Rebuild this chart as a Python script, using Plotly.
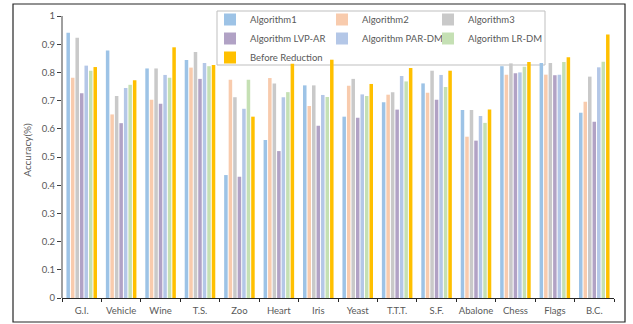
import plotly.graph_objects as go

categories = ["G.I.", "Vehicle", "Wine", "T.S.", "Zoo", "Heart", "Iris", "Yeast",
              "T.T.T.", "S.F.", "Abalone", "Chess", "Flags", "B.C."]

algorithm1 = [0.941, 0.878, 0.814, 0.844, 0.436, 0.560, 0.754, 0.643, 0.694, 0.761, 0.667, 0.822, 0.833, 0.657]
algorithm2 = [0.781, 0.651, 0.703, 0.817, 0.774, 0.780, 0.681, 0.753, 0.721, 0.728, 0.572, 0.792, 0.792, 0.696]
algorithm3 = [0.923, 0.716, 0.814, 0.872, 0.712, 0.761, 0.754, 0.777, 0.730, 0.806, 0.667, 0.832, 0.833, 0.785]
lvp_ar     = [0.726, 0.620, 0.689, 0.777, 0.430, 0.521, 0.611, 0.639, 0.668, 0.703, 0.558, 0.797, 0.790, 0.625]
par_dm     = [0.824, 0.745, 0.791, 0.833, 0.671, 0.712, 0.720, 0.722, 0.787, 0.791, 0.645, 0.800, 0.792, 0.818]
lr_dm      = [0.806, 0.756, 0.781, 0.822, 0.774, 0.730, 0.713, 0.716, 0.768, 0.748, 0.621, 0.820, 0.837, 0.838]
before     = [0.819, 0.772, 0.889, 0.826, 0.643, 0.831, 0.845, 0.759, 0.816, 0.806, 0.668, 0.837, 0.854, 0.934]

series_names = ["Algorithm1", "Algorithm2", "Algorithm3", "Algorithm LVP-AR",
                "Algorithm PAR-DM", "Algorithm LR-DM", "Before Reduction"]
series_values = [algorithm1, algorithm2, algorithm3, lvp_ar, par_dm, lr_dm, before]
series_colors = ["#9DC3E6", "#F8CBAD", "#C9C9C9", "#B1A2C5", "#B4C7E7", "#C5E0B4", "#FFC000"]
# which legend column each series is listed in (3 columns, like the original)
series_legend = ["legend", "legend2", "legend3", "legend", "legend2", "legend3", "legend"]

y_ticks = [0, 0.1, 0.2, 0.3, 0.4, 0.5, 0.6, 0.7, 0.8, 0.9, 1]
y_tick_labels = ["0", "0.1", "0.2", "0.3", "0.4", "0.5", "0.6", "0.7", "0.8", "0.9", "1"]
y_axis_max = 1.0

FONT = "Lato"
GRAY = "#595959"

fig = go.Figure()
for name, vals, col, lg in zip(series_names, series_values, series_colors, series_legend):
    fig.add_trace(go.Bar(x=categories, y=vals, name=name, marker_color=col,
                         marker_line_width=0, legend=lg))

W, H = 633, 324
L, R, T, B = 62, 19, 2, 26
pw = W - L - R
ph = H - T - B
AXIS_TOP_PX = 16          # where the value 1.0 sits
px_per_unit = (H - B - AXIS_TOP_PX) / y_axis_max
y_range_top = ph / px_per_unit   # a little head-room above 1 for the legend


def px_to_paper_x(px):
    return (px - L) / pw


def px_to_paper_y(py):
    return (H - B - py) / ph


def legend_at(px_x, px_y):
    return dict(
        orientation="v",
        x=px_to_paper_x(px_x), y=min(1.0, px_to_paper_y(px_y)), xanchor="left", yanchor="top",
        borderwidth=0, bgcolor="rgba(0,0,0,0)",
        font=dict(family=FONT, size=9.5, color=GRAY),
        itemwidth=30, tracegroupgap=0,
    )


fig.update_layout(
    width=W, height=H,
    margin=dict(l=L, r=R, t=T, b=B, pad=0, autoexpand=False),
    paper_bgcolor="white", plot_bgcolor="white",
    barmode="group", bargap=0.2, bargroupgap=0.22,
    font=dict(family=FONT, size=10, color=GRAY),
    legend=legend_at(210, 5),
    legend2=legend_at(322, 5),
    legend3=legend_at(428, 5),
    xaxis=dict(
        showline=True, linecolor="#262626", linewidth=1,
        ticks="outside", tickson="boundaries", ticklen=3, tickcolor="#262626",
        tickfont=dict(family=FONT, size=9.5, color=GRAY),
        tickangle=0, automargin=False, ticklabelstandoff=4,
        showgrid=False,
    ),
    yaxis=dict(
        range=[0, y_range_top], tickvals=y_ticks, ticktext=y_tick_labels,
        showline=False,
        ticks="outside", ticklen=4, tickcolor="#404040",
        tickfont=dict(family=FONT, size=9.5, color=GRAY),
        showgrid=False, zeroline=False, automargin=False,
        title=dict(text="Accuracy(%)", font=dict(family=FONT, size=10, color=GRAY), standoff=8),
    ),
    shapes=[
        # outer frame of the chart
        dict(type="rect", xref="paper", yref="paper",
             x0=px_to_paper_x(13), x1=px_to_paper_x(625),
             y0=px_to_paper_y(322), y1=px_to_paper_y(4),
             line=dict(color="#262626", width=1.2), fillcolor="rgba(0,0,0,0)",
             layer="below"),
        # legend frame
        dict(type="rect", xref="paper", yref="paper",
             x0=px_to_paper_x(217), x1=px_to_paper_x(545),
             y0=px_to_paper_y(65), y1=px_to_paper_y(11),
             line=dict(color="#BFBFBF", width=1), fillcolor="white",
             layer="below"),
        # value axis line from 0 to 1
        dict(type="line", xref="paper", yref="y", x0=0, x1=0, y0=0, y1=y_axis_max,
             line=dict(color="#404040", width=1), layer="above"),
    ],
)

fig.write_html("out.html", config={"displayModeBar": False},
               post_script="document.body.style.margin='0';")
